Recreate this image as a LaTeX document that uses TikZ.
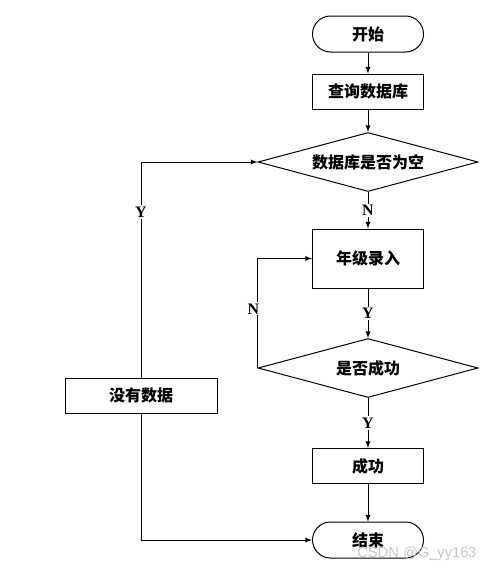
\documentclass[tikz,border=0pt]{standalone}
\usepackage{fontspec}
\usetikzlibrary{shapes.geometric}
\setmainfont{Liberation Serif}
\newfontfamily\cjk{Noto Sans CJK SC}
\newfontfamily\wmfont{Liberation Sans}

\begin{document}
\begin{tikzpicture}[x=0.75pt, y=-0.75pt,
        proc/.style={rectangle, draw, line width=0.75pt, minimum width=83.25pt, minimum height=26.25pt, inner sep=1pt, font=\cjk\bfseries\fontsize{12}{14}\selectfont},
        term/.style={proc, rounded corners=13.5pt, minimum height=27pt},
        decision/.style={proc, diamond, aspect=3.7, inner sep=0pt, minimum width=165pt, minimum height=44.25pt},
        yn/.style={fill=white, inner sep=1pt, font=\fontsize{12}{14}\selectfont\bfseries},
        ->, >=latex, line width=0.75pt]
        \useasboundingbox (0,0) rectangle (481,571);
        \node[term] (start) at (368,34) {开始};
        \node[proc] (query) at (368,91.5) {查询数据库};
        \node[decision] (empty) at (368,162) {数据库是否为空};
        \node[proc, minimum height=44.25pt] (input) at (368,258.5) {年级录入};
        \node[decision] (ok) at (368,368) {是否成功};
        \node[proc] (success) at (368,466) {成功};
        \node[term] (stop) at (368,540) {结束};
        \node[proc, minimum width=114pt] (nodata) at (141,395.5) {没有数据};
        \draw (start) -- (query);
        \draw (query) -- (empty);
        \draw (empty) -- node[yn] {N} (input);
        \draw (input) -- node[yn] {Y} (ok);
        \draw (ok) -- node[yn] {Y} (success);
        \draw (success) -- (stop);
        \draw (ok.west) |- node[yn, pos=0.27, xshift=-3pt] {N} (input.west);
        \draw (nodata.north) |- node[yn, pos=0.384] {Y} (empty.west);
        \draw (nodata.south) |- (stop.west);
        \node[draw=none, text=gray!45, font=\wmfont\fontsize{11}{13}\selectfont] (wmark) at (417,554) {CSDN @G\_yy163};
    \end{tikzpicture}
\end{document}
